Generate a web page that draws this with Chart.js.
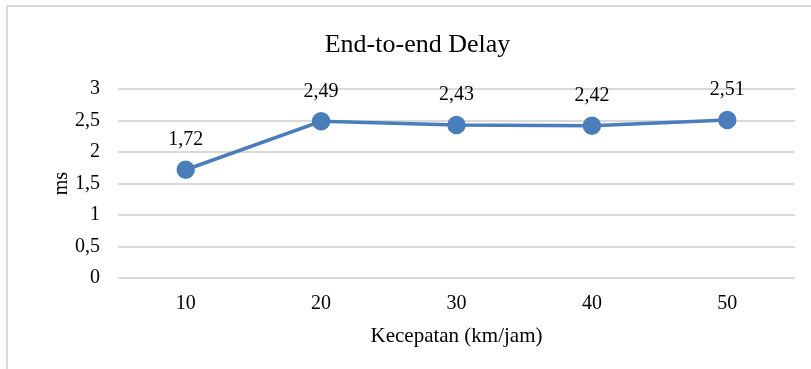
<!DOCTYPE html>
<html>
<head>
  <meta charset="utf-8">
  <title>End-to-end Delay</title>
  <script src="https://cdn.jsdelivr.net/npm/chart.js"></script>
  <style>
    html, body {
      margin: 0;
      padding: 0;
      background: #ffffff;
      overflow: hidden;
    }
    .frame {
      position: absolute;
      left: 6px;
      top: 5px;
      width: 830px;
      height: 400px;
      border: 2px solid #d9d9d9;
      box-sizing: border-box;
      pointer-events: none;
    }
    #wrap {
      position: absolute;
      left: 0;
      top: 0;
      width: 811px;
      height: 369px;
    }
  </style>
</head>
<body>
  <div id="wrap"><canvas id="chart"></canvas></div>
  <div class="frame"></div>

  <script>
    const categories = ['10', '20', '30', '40', '50'];
    const delayValues = [1.72, 2.49, 2.43, 2.42, 2.51];
    const chartTitle = 'End-to-end Delay';
    const xTitle = 'Kecepatan (km/jam)';
    const yTitle = 'ms';

    const serif = "'Liberation Serif', 'Times New Roman', serif";
    const lineColor = '#4a7ebb';

    // comma decimal like the original
    function fmt(v) {
      return String(v).replace('.', ',');
    }

    // draws the value above each point
    const pointLabels = {
      id: 'pointLabels',
      afterDatasetsDraw(chart) {
        const ctx = chart.ctx;
        const meta = chart.getDatasetMeta(0);
        ctx.save();
        ctx.font = '20px ' + serif;
        ctx.fillStyle = '#000000';
        ctx.textAlign = 'center';
        ctx.textBaseline = 'middle';
        meta.data.forEach((pt, i) => {
          ctx.fillText(fmt(chart.data.datasets[0].data[i]), pt.x, pt.y - 30);
        });
        ctx.restore();
      }
    };

    new Chart(document.getElementById('chart').getContext('2d'), {
      type: 'line',
      data: {
        labels: categories,
        datasets: [{
          label: chartTitle,
          data: delayValues,
          borderColor: lineColor,
          backgroundColor: lineColor,
          borderWidth: 3.5,
          pointRadius: 7.5,
          pointHoverRadius: 7.5,
          pointBackgroundColor: lineColor,
          pointBorderColor: lineColor,
          tension: 0
        }]
      },
      options: {
        responsive: true,
        maintainAspectRatio: false,
        animation: false,
        layout: {
          padding: { left: 40, right: 16, top: 0, bottom: 20 }
        },
        plugins: {
          legend: { display: false },
          tooltip: { enabled: false },
          title: {
            display: true,
            text: chartTitle,
            color: '#000000',
            font: { family: serif, size: 26, weight: 'normal' },
            padding: { top: 30, bottom: 28 }
          }
        },
        scales: {
          x: {
            offset: true,
            grid: { display: false, drawTicks: false },
            border: { display: false },
            afterFit: s => { s.height = 71; },
            ticks: {
              color: '#000000',
              padding: 14,
              font: { family: serif, size: 20 }
            },
            title: {
              display: true,
              text: xTitle,
              color: '#000000',
              font: { family: serif, size: 21 },
              padding: { top: 8, bottom: 0 }
            }
          },
          y: {
            min: 0,
            max: 3,
            grid: { color: '#d9d9d9', lineWidth: 2, drawTicks: false },
            border: { display: false },
            afterFit: s => { s.width = 78; },
            ticks: {
              stepSize: 0.5,
              color: '#000000',
              padding: 18,
              font: { family: serif, size: 20 },
              callback: v => fmt(v)
            },
            title: {
              display: true,
              text: yTitle,
              color: '#000000',
              font: { family: serif, size: 20 },
              padding: { top: 10, bottom: 1 }
            }
          }
        }
      },
      plugins: [pointLabels]
    });
  </script>
</body>
</html>
